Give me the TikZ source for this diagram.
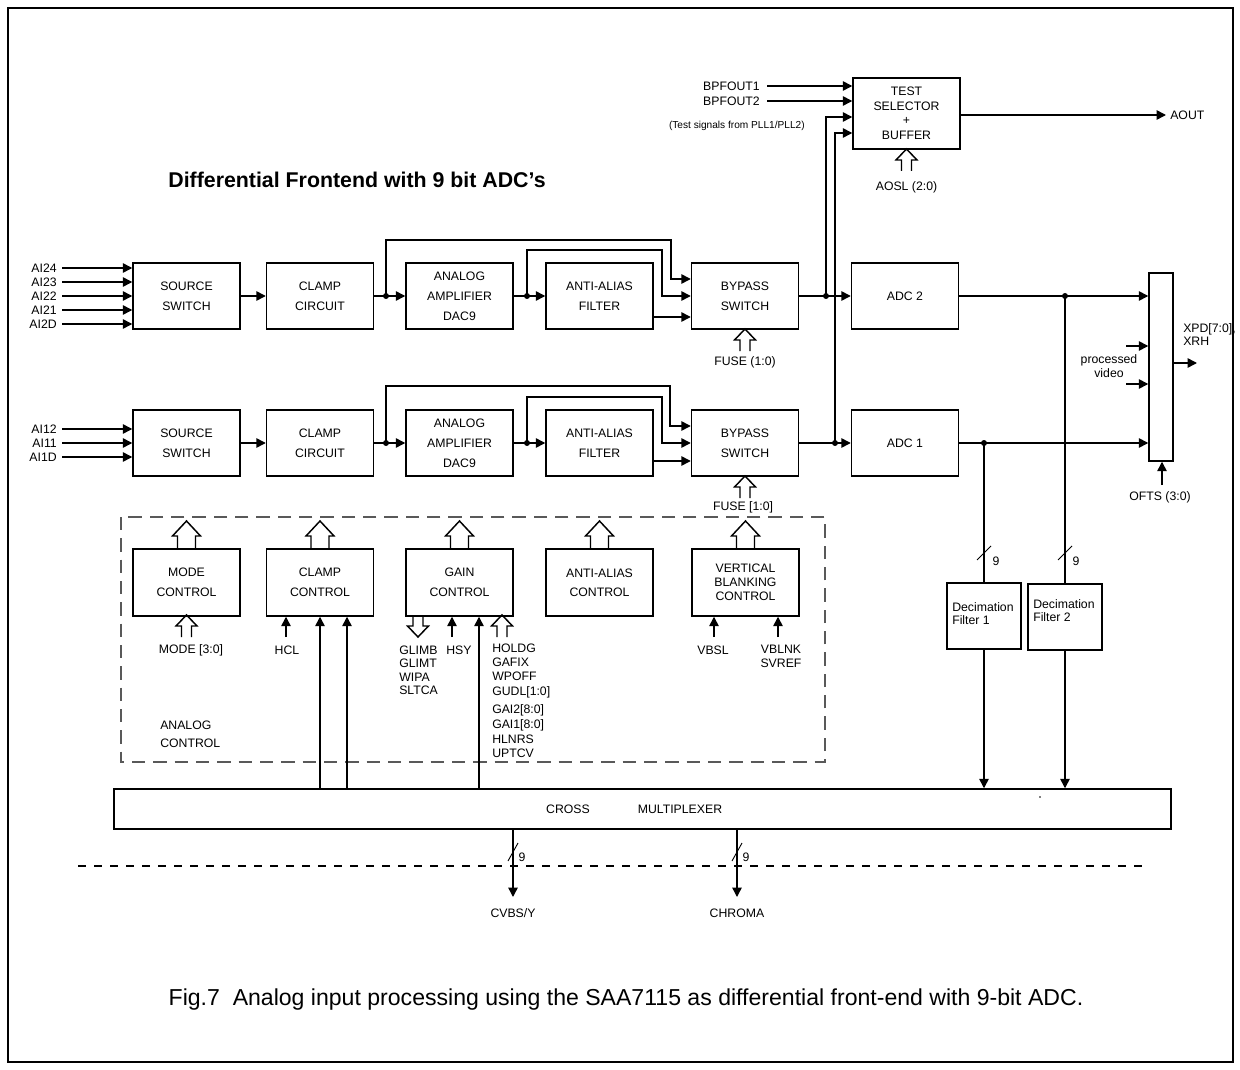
\documentclass[tikz,border=0pt]{standalone}
\usepackage{fontspec}
\setmainfont{Liberation Sans}
\usetikzlibrary{arrows.meta,calc}
\begin{document}
\begin{tikzpicture}[x=0.75pt,y=-0.75pt,
  every node/.style={font=\fontsize{9.2}{11}\selectfont, inner sep=0pt},
  blk/.style={draw, line width=1.1pt, minimum width=80.25pt, minimum height=49.5pt, align=center, font=\fontsize{9.2}{15}\selectfont},
  ln/.style={line width=1.1pt},
  arr/.style={line width=1.1pt, -{Triangle[length=7pt,width=7pt]}},
  jdot/.style={circle, fill, minimum size=4.5pt, inner sep=0pt},
  slash/.style={line width=0.7pt},
  bigup/.pic={\draw[line width=1.1pt] (-9,0) -- (-9,-13) -- (-14,-13) -- (0,-28) -- (14,-13) -- (9,-13) -- (9,0);},
  smallup/.pic={\draw[line width=1.1pt] (-5,0) -- (-5,-11) -- (-10.5,-11) -- (0,-22) -- (10.5,-11) -- (5,-11) -- (5,0);},
  smalldown/.pic={\draw[line width=1.1pt] (-5,0) -- (-5,10) -- (-10.5,10) -- (0,21) -- (10.5,10) -- (5,10) -- (5,0);},
]
\useasboundingbox (0,0) rectangle (1240,1070);
\draw[line width=1.1pt] (8,8) rectangle (1233,1062);

% title
\node[font=\fontsize{16}{18}\selectfont\bfseries] (title) at (357,180) {Differential Frontend with 9 bit ADC’s};

% test selector
\node[blk, minimum height=53.25pt, font=\fontsize{9.2}{10.9}\selectfont] (ts) at (906.5,113.5) {TEST\\SELECTOR\\+\\BUFFER};
\coordinate (bp1) at (767,86);
\coordinate (bp2) at (767,101);
\node[anchor=east] (lbp1) at (760,86) {BPFOUT1};
\node[anchor=east] (lbp2) at (760,101) {BPFOUT2};
\node[anchor=east, font=\fontsize{7.6}{9}\selectfont] (ltest) at (805,126) {(Test signals from PLL1/PLL2)};
\draw[arr] (bp1) -- (bp1 -| ts.west);
\draw[arr] (bp2) -- (bp2 -| ts.west);
\coordinate (aout) at (1166,115);
\draw[arr] (ts.east |- aout) -- (aout);
\node[anchor=west] (laout) at (1170,115) {AOUT};
\pic at (906.5,171) {smallup};
\node (laosl) at (906.5,187) {AOSL (2:0)};

% top row (ADC 2)
\node[blk] (ss2) at (186.5,296) {SOURCE\\SWITCH};
\node[blk] (cc2) at (320,296) {CLAMP\\CIRCUIT};
\node[blk] (amp2) at (459.5,296) {ANALOG\\AMPLIFIER\\DAC9};
\node[blk] (aaf2) at (599.5,296) {ANTI-ALIAS\\FILTER};
\node[blk] (byp2) at (745,296) {BYPASS\\SWITCH};
\node[blk] (adc2) at (905,296) {ADC 2};

\foreach \n/\y in {AI24/268, AI23/282, AI22/296, AI21/310, AI2D/324} {
  \coordinate (in\n) at (62,\y);
  \node[anchor=east] (l\n) at (57,\y) {\n};
  \draw[arr] (in\n) -- (in\n -| ss2.west);
}
\draw[arr] (ss2) -- (cc2);
\draw[arr] (cc2) -- (amp2);
\draw[arr] (amp2) -- (aaf2);
\node[jdot] (j2a) at (386,296) {};
\node[jdot] (j2b) at (527,296) {};
\draw[arr] (j2a.center) |- (671,240) |- ($(byp2.west)+(0,-17)$);
\draw[arr] (j2b.center) |- (662,250) |- (byp2.west);
\draw[arr] ($(aaf2.east)+(0,21)$) -- ($(byp2.west)+(0,21)$);
\draw[arr] (byp2) -- (adc2);
\node[jdot] (j2c) at (826,296) {};
\draw[arr] (j2c.center) |- ($(ts.west)+(0,3.5)$);
\pic at (745,351) {smallup};
\node (lfuse2) at (745,362) {FUSE (1:0)};

% bottom row (ADC 1)
\node[blk] (ss1) at (186.5,443) {SOURCE\\SWITCH};
\node[blk] (cc1) at (320,443) {CLAMP\\CIRCUIT};
\node[blk] (amp1) at (459.5,443) {ANALOG\\AMPLIFIER\\DAC9};
\node[blk] (aaf1) at (599.5,443) {ANTI-ALIAS\\FILTER};
\node[blk] (byp1) at (745,443) {BYPASS\\SWITCH};
\node[blk] (adc1) at (905,443) {ADC 1};

\foreach \n/\y in {AI12/429, AI11/443, AI1D/457} {
  \coordinate (in\n) at (62,\y);
  \node[anchor=east] (l\n) at (57,\y) {\n};
  \draw[arr] (in\n) -- (in\n -| ss1.west);
}
\draw[arr] (ss1) -- (cc1);
\draw[arr] (cc1) -- (amp1);
\draw[arr] (amp1) -- (aaf1);
\node[jdot] (j1a) at (386,443) {};
\node[jdot] (j1b) at (527,443) {};
\draw[arr] (j1a.center) |- (670,386) |- ($(byp1.west)+(0,-17)$);
\draw[arr] (j1b.center) |- (662,397) |- (byp1.west);
\draw[arr] ($(aaf1.east)+(0,18)$) -- ($(byp1.west)+(0,18)$);
\draw[arr] (byp1) -- (adc1);
\node[jdot] (j1c) at (835,443) {};
\draw[arr] (j1c.center) |- ($(ts.west)+(0,19.5)$);
\pic at (745,498) {smallup};
\node (lfuse1) at (743,507) {FUSE [1:0]};

% output multiplexer
\node[draw, line width=1.1pt, minimum width=18pt, minimum height=141pt] (mux) at (1161,367) {};
\draw[arr] (adc2.east) -- (adc2.east -| mux.west);
\draw[arr] (adc1.east) -- (adc1.east -| mux.west);
\node[jdot] (j2d) at (1065,296) {};
\node[jdot] (j1d) at (984,443) {};
\coordinate (pv1) at (1126,346);
\coordinate (pv2) at (1126,384);
\draw[arr] (pv1) -- (pv1 -| mux.west);
\draw[arr] (pv2) -- (pv2 -| mux.west);
\node[align=center, font=\fontsize{9.2}{10.5}\selectfont] (lpv) at (1109,366) {processed\\video};
\coordinate (xpd) at (1197,363);
\draw[arr] (mux.east |- xpd) -- (xpd);
\node[anchor=north west, align=left, font=\fontsize{9.2}{10}\selectfont] (lxpd) at (1183,323) {XPD[7:0],\\XRH};
\coordinate (ofts) at (1162,485);
\draw[arr] (ofts) -- (ofts |- mux.south);
\node (lofts) at (1160,497) {OFTS (3:0)};

% decimation filters
\node[draw, line width=1.1pt, minimum width=55.5pt, minimum height=49.5pt] (df1) at (984,616) {};
\node[draw, line width=1.1pt, minimum width=55.5pt, minimum height=49.5pt] (df2) at (1065,617) {};
\node[anchor=north west, align=left, font=\fontsize{9.2}{10}\selectfont] (ldf1) at (952,602) {Decimation\\Filter 1};
\node[anchor=north west, align=left, font=\fontsize{9.2}{10}\selectfont] (ldf2) at (1033,599) {Decimation\\Filter 2};
\draw[ln] (j1d.center) -- (j1d.center |- df1.north);
\draw[ln] (j2d.center) -- (j2d.center |- df2.north);
\draw[slash] (977,560) -- (991,546);
\draw[slash] (1058,560) -- (1072,546);
\node (n9a) at (996,561) {9};
\node (n9b) at (1076,561) {9};

% cross multiplexer
\node[draw, line width=1.1pt, minimum width=792.75pt, minimum height=30pt] (cm) at (642.5,809) {};
\node (lcross) at (568,809) {CROSS};
\node (lmux) at (680,809) {MULTIPLEXER};
\fill (1040,797) circle (0.6pt);
\draw[arr] (df1.south) -- (df1.south |- cm.north);
\draw[arr] (df2.south) -- (df2.south |- cm.north);

% analog control
\draw[line width=0.9pt, black!65, dash pattern=on 10pt off 6pt] (121,517) rectangle (825,762);
\node[blk, minimum height=50.25pt] (mc) at (186.5,582.5) {MODE\\CONTROL};
\node[blk, minimum height=50.25pt] (clc) at (320,582.5) {CLAMP\\CONTROL};
\node[blk, minimum height=50.25pt] (gc) at (459.5,582.5) {GAIN\\CONTROL};
\node[blk, minimum height=50.25pt, font=\fontsize{9.2}{14.3}\selectfont] (aac) at (599.5,582.5) {ANTI-ALIAS\\CONTROL};
\node[blk, minimum height=50.25pt, font=\fontsize{9.2}{10.5}\selectfont] (vbc) at (745.5,582.5) {VERTICAL\\BLANKING\\CONTROL};
\pic at (186.5,549) {bigup};
\pic at (320,549) {bigup};
\pic at (459.5,549) {bigup};
\pic at (599.5,549) {bigup};
\pic at (745.5,549) {bigup};

\pic at (186.5,637) {smallup};
\node (lmode) at (191,650) {MODE [3:0]};
\coordinate (hcl) at (286,637);
\draw[arr] (hcl) -- (hcl |- clc.south);
\node (lhcl) at (287,650) {HCL};
\draw[arr] (clc.south |- cm.north) -- (clc.south);
\draw[arr] ($(clc.south |- cm.north)+(27,0)$) -- ($(clc.south)+(27,0)$);

\pic at (418,616) {smalldown};
\node[anchor=north west, align=left, font=\fontsize{9.2}{10}\selectfont] (lglimb) at (399,645.5) {GLIMB\\GLIMT\\WIPA\\SLTCA};
\coordinate (hsy) at (452,637);
\draw[arr] (hsy) -- (hsy |- gc.south);
\node (lhsy) at (459,650) {HSY};
\draw[arr] ($(gc.south |- cm.north)+(19.5,0)$) -- ($(gc.south)+(19.5,0)$);
\pic at (502,637) {smallup};
\foreach \t/\y in {HOLDG/648, GAFIX/662, WPOFF/676, {GUDL[1:0]}/691, {GAI2[8:0]}/709, {GAI1[8:0]}/724, HLNRS/739, UPTCV/753} {
  \node[anchor=base west] (l\y) at (492,\y+4.5) {\t};
}
\node[anchor=west, align=left, font=\fontsize{9.2}{13.5}\selectfont] (lac) at (160,734) {ANALOG\\CONTROL};

\coordinate (vbsl) at (714,637);
\draw[arr] (vbsl) -- (vbsl |- vbc.south);
\node (lvbsl) at (713,650) {VBSL};
\coordinate (vblnk) at (778,637);
\draw[arr] (vblnk) -- (vblnk |- vbc.south);
\node[align=center, font=\fontsize{9.2}{10}\selectfont] (lvblnk) at (781,656.5) {VBLNK\\SVREF};

% outputs
\draw[line width=0.8pt, dash pattern=on 6pt off 6pt] (78,866) -- (1145,866);
\coordinate (cvbs) at (513,897);
\coordinate (chroma) at (737,897);
\draw[arr] (cvbs |- cm.south) -- (cvbs);
\draw[arr] (chroma |- cm.south) -- (chroma);
\draw[slash] (508,861) -- (518,843);
\draw[slash] (732,861) -- (742,843);
\node (n9c) at (522,857) {9};
\node (n9d) at (746,857) {9};
\node (lcvbs) at (513,913) {CVBS/Y};
\node (lchroma) at (737,913) {CHROMA};

% caption
\node[font=\fontsize{17.3}{20}\selectfont] (caption) at (626,1000) {Fig.7\ \ Analog input processing using the SAA7115 as differential front-end with 9-bit ADC.};
\end{tikzpicture}
\end{document}
